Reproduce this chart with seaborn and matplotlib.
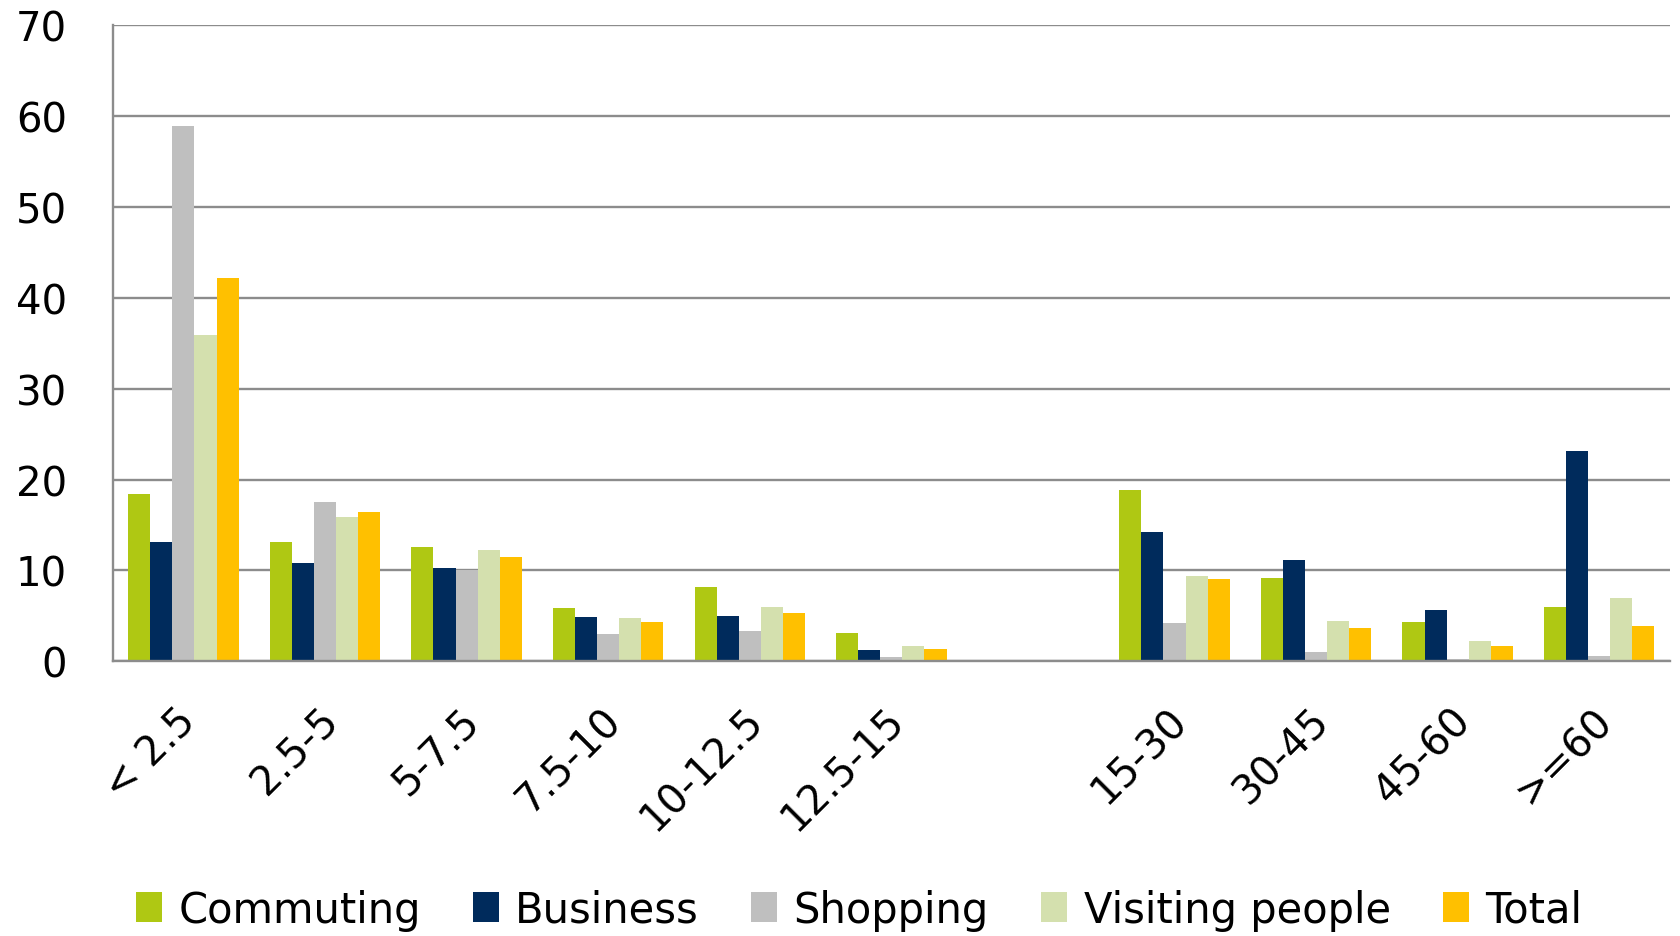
import numpy as np
import pandas as pd
import matplotlib
matplotlib.use("Agg")
import matplotlib.pyplot as plt
import seaborn as sns
from matplotlib.patches import Patch

categories = ["< 2.5", "2.5-5", "5-7.5", "7.5-10", "10-12.5", "12.5-15", " ",
              "15-30", "30-45", "45-60", ">=60"]
data_categories = ["< 2.5", "2.5-5", "5-7.5", "7.5-10", "10-12.5", "12.5-15",
                   "15-30", "30-45", "45-60", ">=60"]
series = ["Commuting", "Business", "Shopping", "Visiting people", "Total"]
commuting = [18.4, 13.1, 12.6, 5.9, 8.2, 3.1, 18.8, 9.2, 4.3, 6.0]
business = [13.1, 10.8, 10.3, 4.9, 5.0, 1.3, 14.2, 11.1, 5.7, 23.1]
shopping = [58.9, 17.5, 10.1, 3.0, 3.3, 0.5, 4.2, 1.0, 0.3, 0.6]
visiting = [35.9, 15.9, 12.3, 4.8, 6.0, 1.7, 9.4, 4.4, 2.2, 7.0]
total = [42.1, 16.4, 11.5, 4.3, 5.3, 1.4, 9.1, 3.7, 1.7, 3.9]
colors = ["#AFC813", "#002B5C", "#BFBFBF", "#D4E0AE", "#FFC000"]
yticks = [0, 10, 20, 30, 40, 50, 60, 70]

values = [commuting, business, shopping, visiting, total]
rows = []
for s, vals in zip(series, values):
    for c, v in zip(data_categories, vals):
        rows.append({"cat": c, "series": s, "value": v})
df = pd.DataFrame(rows)

sns.set_theme(style="white")
plt.rcParams["font.family"] = ["DejaVu Sans"]
plt.rcParams["text.color"] = "black"

fig = plt.figure(figsize=(16.81, 9.37), dpi=100)
ax = fig.add_axes([0.067, 0.293, 0.9265, 0.6796])

sns.barplot(data=df, x="cat", y="value", hue="series", order=categories,
            hue_order=series, palette=colors, width=0.78, ax=ax,
            linewidth=0, legend=False, saturation=1)

gray = "#8C8C8C"
fs = 29
ax.set_ylim(0, 70)
ax.set_xlim(-0.5, len(categories) - 0.5)
ax.set_yticks(yticks)
ax.set_yticklabels([str(t) for t in yticks], fontsize=fs, color="black")
ax.yaxis.grid(True, color=gray, linewidth=1.7)
ax.set_axisbelow(True)

# x ticks: marks at boundaries, labels at centers
bounds = np.arange(-0.5, len(categories), 1.0)
ax.set_xticks(bounds)
ax.set_xticklabels([""] * len(bounds))
ax.set_xticks(np.arange(len(categories)) + 0.05, minor=True)
ax.set_xticklabels(categories, minor=True, fontsize=fs, rotation=45, color="black",
                   ha="right", va="center", rotation_mode="anchor")
ax.tick_params(axis="x", which="major", length=14, width=1.7, color=gray, direction="out")
ax.tick_params(axis="x", which="minor", length=0, pad=38)
ax.tick_params(axis="y", which="major", length=13, width=1.7, color=gray, direction="out", pad=20)

ax.set_xlabel("")
ax.set_ylabel("")
for side in ["top", "right"]:
    ax.spines[side].set_visible(False)
for side in ["left", "bottom"]:
    ax.spines[side].set_color(gray)
    ax.spines[side].set_linewidth(1.7)

handles = [Patch(facecolor=c, edgecolor="none", label=s) for s, c in zip(series, colors)]
leg = fig.legend(handles=handles, loc="center", bbox_to_anchor=(0.511, 0.028), ncol=5,
                 frameon=False, fontsize=30, handlelength=0.62, handleheight=0.72,
                 handletextpad=0.4, columnspacing=1.25)
for t in leg.get_texts():
    t.set_color("black")

fig.savefig("out.png", dpi=100)
